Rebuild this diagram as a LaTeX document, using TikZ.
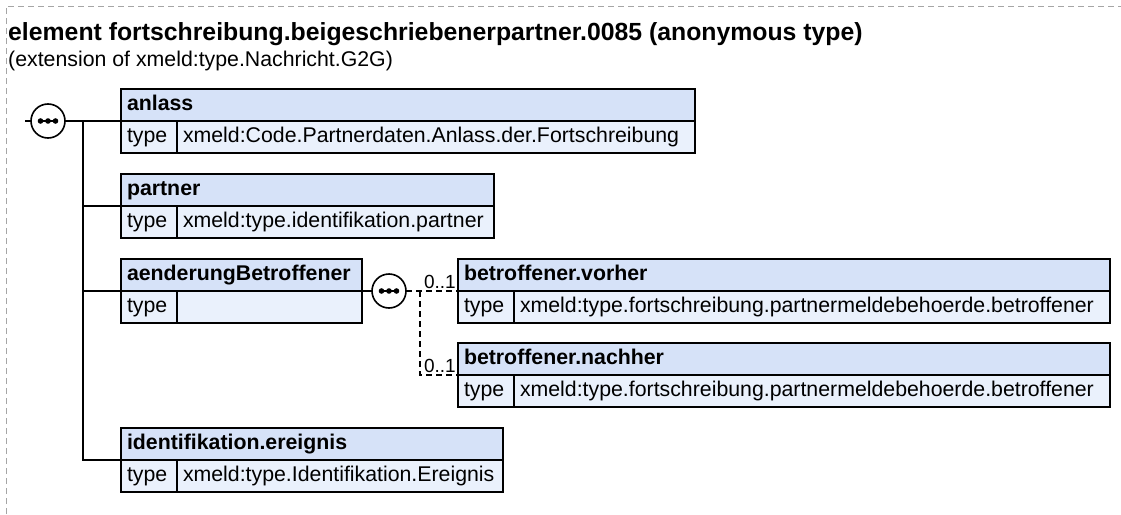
\documentclass[tikz,border=0pt]{standalone}
\usepackage{fontspec}
\setmainfont{Liberation Sans}
\usetikzlibrary{positioning}
\definecolor{hdrblue}{RGB}{214,226,248}
\definecolor{rowblue}{RGB}{234,241,252}
\definecolor{framegray}{RGB}{165,165,165}

\begin{document}
\begin{tikzpicture}[
        x=1pt, y=-1pt,
        every node/.style={font=\fontsize{21.3}{26}\selectfont},
        title/.style={font=\fontsize{24.8}{30}\selectfont\bfseries, inner sep=0, anchor=base west},
        subtitle/.style={inner sep=0, anchor=base west},
        hdr/.style={rectangle, draw=black, line width=1.6pt, fill=hdrblue, outer sep=0, inner xsep=6pt, inner ysep=0, minimum height=32pt, text height=15.5pt, text depth=4.5pt, align=left, anchor=north west, font=\fontsize{21.3}{26}\selectfont\bfseries},
        typecell/.style={hdr, fill=rowblue, font=\fontsize{21.3}{26}\selectfont, text width=44pt},
        valcell/.style={typecell},
        seq/.style={circle, draw=black, line width=1.6pt, fill=white, minimum size=34pt, inner sep=0, outer sep=0},
        conn/.style={line width=1.6pt},
        optconn/.style={line width=1.6pt, dash pattern=on 6pt off 4pt},
        card/.style={font=\fontsize{19}{22}\selectfont, inner sep=2pt, anchor=south east},
        frame/.style={draw=framegray, line width=1pt, dash pattern=on 6pt off 4pt}
    ]
    \useasboundingbox (0,0) rectangle (1121,514);
    \draw[frame] (6,514) -- (6,6) -- (1121,6);

    \node[title] (title) at (8,40) {element fortschreibung.beigeschriebenerpartner.0085 (anonymous type)};
    \node[subtitle] (subtitle) at (8,66) {(extension of xmeld:type.Nachricht.G2G)};

    % elements of the sequence
    \node[hdr, text width=562pt] (anlass_hdr) at (121,89) {anlass};
    \node[typecell] (anlass_type) at (anlass_hdr.south west) {type};
    \node[valcell, text width=506pt] (anlass_val) at (anlass_type.north east) {xmeld:Code.Partnerdaten.Anlass.der.Fortschreibung};

    \node[hdr, text width=361pt] (partner_hdr) at (121,174) {partner};
    \node[typecell] (partner_type) at (partner_hdr.south west) {type};
    \node[valcell, text width=305pt] (partner_val) at (partner_type.north east) {xmeld:type.identifikation.partner};

    \node[hdr, text width=229pt] (aend_hdr) at (121,259) {aenderungBetroffener};
    \node[typecell] (aend_type) at (aend_hdr.south west) {type};
    \node[valcell, text width=173pt] (aend_val) at (aend_type.north east) {};

    \node[hdr, text width=640pt] (vorher_hdr) at (458,259) {betroffener.vorher};
    \node[typecell] (vorher_type) at (vorher_hdr.south west) {type};
    \node[valcell, text width=584pt] (vorher_val) at (vorher_type.north east) {xmeld:type.fortschreibung.partnermeldebehoerde.betroffener};

    \node[hdr, text width=640pt] (nachher_hdr) at (458,343) {betroffener.nachher};
    \node[typecell] (nachher_type) at (nachher_hdr.south west) {type};
    \node[valcell, text width=584pt] (nachher_val) at (nachher_type.north east) {xmeld:type.fortschreibung.partnermeldebehoerde.betroffener};

    \node[hdr, text width=370pt] (ident_hdr) at (121,428) {identifikation.ereignis};
    \node[typecell] (ident_type) at (ident_hdr.south west) {type};
    \node[valcell, text width=314pt] (ident_val) at (ident_type.north east) {xmeld:type.Identifikation.Ereignis};

    % sequence symbols
    \coordinate (entry) at (25,121);
    \node[seq] (seq_a) at (48,121) {};
    \coordinate (trunk) at (83,121);
    \node[seq] (seq_b) at ([xshift=27pt]aend_hdr.south east) {};
    \coordinate (fork) at ([xshift=14pt]seq_b.east);
    \foreach \s in {seq_a,seq_b} {
        \draw[line width=1.6pt] ([xshift=-10pt]\s.center) -- ([xshift=10pt]\s.center);
        \foreach \dx in {-7.5pt,0pt,7.5pt}
            \fill ([xshift=\dx]\s.center) circle (2.8pt);
    }

    % connectors
    \draw[conn] (entry) -- (seq_a);
    \draw[conn] (seq_a) -- (anlass_hdr.south west);
    \draw[conn] (trunk) |- (ident_hdr.south west);
    \draw[conn] (trunk |- partner_hdr.south west) -- (partner_hdr.south west);
    \draw[conn] (trunk |- aend_hdr.south west) -- (aend_hdr.south west);
    \draw[conn] (aend_hdr.south east) -- (seq_b);
    \draw[optconn] (seq_b) -- (fork) -- (vorher_hdr.south west);
    \draw[optconn] (fork) |- (nachher_hdr.south west);

    \node[card] (vorher_card) at (vorher_hdr.south west) {0..1};
    \node[card] (nachher_card) at (nachher_hdr.south west) {0..1};
\end{tikzpicture}
\end{document}
